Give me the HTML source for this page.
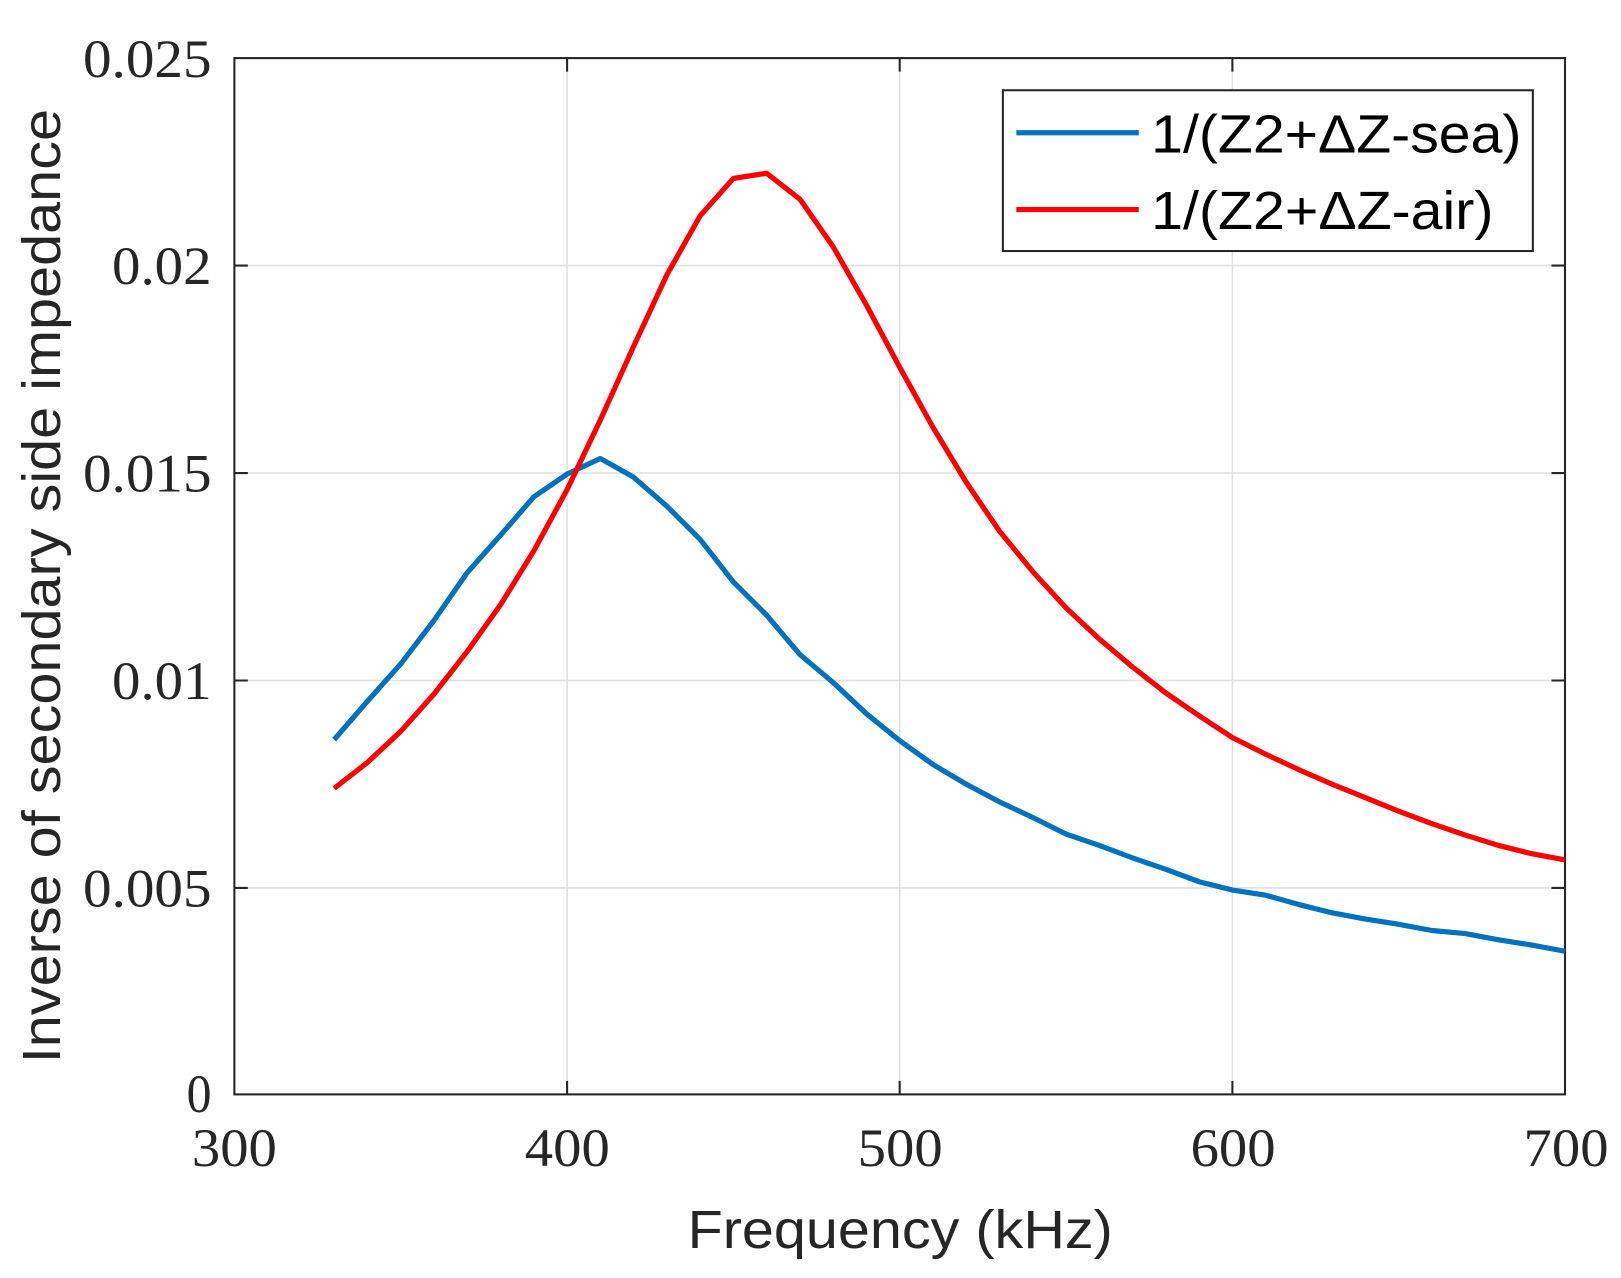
<!DOCTYPE html>
<html><head><meta charset="utf-8"><style>html,body{margin:0;padding:0;background:#fff}svg{display:block}</style></head>
<body>
<svg width="1621" height="1278" viewBox="0 0 1563 1232" preserveAspectRatio="none" xmlns="http://www.w3.org/2000/svg">
<rect width="1563" height="1232" fill="#fff"/>
<g stroke="#e0e0e0" stroke-width="1.5">
<line x1="546.8" y1="56" x2="546.8" y2="1055"/><line x1="867.5" y1="56" x2="867.5" y2="1055"/><line x1="1188.3" y1="56" x2="1188.3" y2="1055"/>
<line x1="226" y1="256" x2="1509" y2="256"/><line x1="226" y1="456" x2="1509" y2="456"/><line x1="226" y1="656" x2="1509" y2="656"/><line x1="226" y1="856" x2="1509" y2="856"/>
</g>
<g stroke="#262626" stroke-width="2">
<rect x="226" y="56" width="1283" height="999" fill="none"/>
<path d="M546.8 1055v-13M867.5 1055v-13M1188.3 1055v-13M546.8 56v13M867.5 56v13M1188.3 56v13M226 256h13M226 456h13M226 656h13M226 856h13M1509 256h-13M1509 456h-13M1509 656h-13M1509 856h-13"/>
</g>
<polyline fill="none" stroke="#0072bd" stroke-width="5" stroke-linejoin="round" points="322.2,713 354.3,676 386.4,640 418.5,598 450.5,552 482.6,516 514.7,479 546.8,457 578.8,442 610.9,460 643,488 675.1,520 707.1,561 739.2,593 771.3,631 803.4,658 835.4,688 867.5,714 899.6,737 931.7,756 963.7,773 995.8,788 1027.9,804 1060,815 1092,827 1124.1,838 1156.2,850 1188.3,858 1220.3,863 1252.4,872 1284.5,880 1316.6,886 1348.6,891 1380.7,897 1412.8,900 1444.9,906 1476.9,911 1509,917"/>
<polyline fill="none" stroke="#ff0000" stroke-width="5" stroke-linejoin="round" points="322.2,760 354.3,735 386.4,705 418.5,669 450.5,628 482.6,583 514.7,531 546.8,472 578.8,405 610.9,334 643,265 675.1,208 707.1,172 739.2,167 771.3,192 803.4,238 835.4,294 867.5,354 899.6,412 931.7,465 963.7,512 995.8,551 1027.9,586 1060,616 1092,643 1124.1,668 1156.2,690 1188.3,711 1220.3,727 1252.4,742 1284.5,756 1316.6,769 1348.6,782 1380.7,794 1412.8,805 1444.9,815 1476.9,823 1509,829"/>
<g font-family="Liberation Serif, serif" font-size="52" fill="#262626" lengthAdjust="spacingAndGlyphs">
<text x="80" y="74" textLength="124" lengthAdjust="spacingAndGlyphs">0.025</text>
<text x="108" y="274" textLength="96" lengthAdjust="spacingAndGlyphs">0.02</text>
<text x="80" y="474" textLength="124" lengthAdjust="spacingAndGlyphs">0.015</text>
<text x="108" y="674" textLength="96" lengthAdjust="spacingAndGlyphs">0.01</text>
<text x="80" y="874" textLength="124" lengthAdjust="spacingAndGlyphs">0.005</text>
<text x="180" y="1072" textLength="24" lengthAdjust="spacingAndGlyphs">0</text>
</g>
<g font-family="Liberation Serif, serif" font-size="52" fill="#262626">
<text x="185" y="1124" textLength="82" lengthAdjust="spacingAndGlyphs">300</text>
<text x="506" y="1124" textLength="82" lengthAdjust="spacingAndGlyphs">400</text>
<text x="827" y="1124" textLength="82" lengthAdjust="spacingAndGlyphs">500</text>
<text x="1148" y="1124" textLength="82" lengthAdjust="spacingAndGlyphs">600</text>
<text x="1469" y="1124" textLength="82" lengthAdjust="spacingAndGlyphs">700</text>
</g>
<text x="663" y="1203" font-family="Liberation Sans, sans-serif" font-size="52" fill="#262626" textLength="410" lengthAdjust="spacingAndGlyphs">Frequency (kHz)</text>
<text transform="translate(58,1025) rotate(-90)" font-family="Liberation Sans, sans-serif" font-size="52" fill="#262626" textLength="920" lengthAdjust="spacingAndGlyphs">Inverse of secondary side impedance</text>
<rect x="967" y="87" width="511" height="155" fill="#fff" stroke="#262626" stroke-width="2"/>
<line x1="980" y1="128" x2="1098" y2="128" stroke="#0072bd" stroke-width="5"/>
<line x1="980" y1="202" x2="1098" y2="202" stroke="#ff0000" stroke-width="5"/>
<g font-family="Liberation Sans, sans-serif" font-size="52" fill="#000">
<text x="1110" y="147" textLength="357" lengthAdjust="spacingAndGlyphs">1/(Z2+ΔZ-sea)</text>
<text x="1110" y="221" textLength="330" lengthAdjust="spacingAndGlyphs">1/(Z2+ΔZ-air)</text>
</g>
</svg>
</body></html>
